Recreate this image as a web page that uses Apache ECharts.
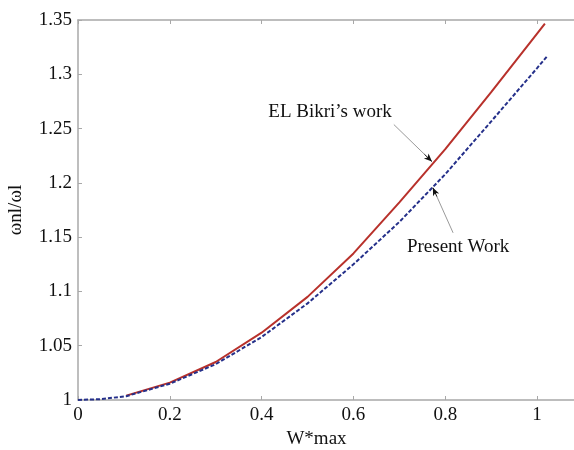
<!DOCTYPE html>
<html>
<head>
<meta charset="utf-8">
<script src="https://cdn.jsdelivr.net/npm/echarts@6/dist/echarts.min.js"></script>
<style>
  html, body { margin: 0; padding: 0; background: #fff; }
  #chart { width: 574px; height: 450px; }
</style>
</head>
<body>
<div id="chart"></div>
<script>
// Data
const presentX = [0, 0.05, 0.105, 0.2, 0.3, 0.4, 0.5, 0.6, 0.7, 0.8, 0.9, 1.0, 1.022]
const presentY = [1.0, 1.0008, 1.0035, 1.015, 1.033, 1.058, 1.089, 1.125, 1.164, 1.208, 1.2566, 1.3057, 1.3167]
const bikriX = [0.105, 0.2, 0.3, 0.4, 0.5, 0.6, 0.7, 0.8, 0.9, 1.0, 1.017]
const bikriY = [1.004, 1.016, 1.035, 1.062, 1.095, 1.135, 1.182, 1.231, 1.2835, 1.3375, 1.3466]

// Annotation texts and arrows (data coordinates)
const bikriLabel = { text: 'EL Bikri\u2019s work', at: [0.549, 1.265] }
const presentLabel = { text: 'Present Work', at: [0.828, 1.141] }
const bikriArrow = [[0.688, 1.2537], [0.771, 1.2196]]
const presentArrow = [[0.817, 1.154], [0.773, 1.1956]]

const font = 'Liberation Serif'
const axisGray = '#a8a8a8'

const zip = (xs, ys) => xs.map((x, i) => [x, ys[i]])

// arrow = grey shaft + short black head
const arrowLines = (arrow) => {
    const [a, b] = arrow
    const head = [a[0] + (b[0] - a[0]) * 0.8, a[1] + (b[1] - a[1]) * 0.8]
    return [
        [{ coord: a, symbol: 'none', lineStyle: { color: '#9a9a9a', width: 1, type: 'solid' } },
         { coord: head, symbol: 'none' }],
        [{ coord: head, symbol: 'none', lineStyle: { color: '#111', width: 1, type: 'solid' } },
         { coord: b, symbol: 'arrow', symbolSize: [5, 8] }]
    ]
}

const textPoint = (lbl) => ({
    coord: lbl.at,
    symbol: 'circle',
    symbolSize: 0,
    label: {
        show: true,
        position: 'inside',
        formatter: lbl.text,
        color: '#111',
        fontFamily: font,
        fontSize: 19
    }
})

const chart = echarts.init(document.getElementById('chart'))

const labelStyle = { color: '#111', fontFamily: font, fontSize: 19 }

chart.setOption({
    animation: false,
    backgroundColor: '#fff',
    grid: { left: 78, top: 20, width: 505, height: 380, outerBoundsMode: 'none', containLabel: false },
    xAxis: [{
        type: 'value',
        min: 0,
        max: 1.1,
        interval: 0.2,
        name: 'W*max',
        nameLocation: 'middle',
        nameGap: 30,
        nameTextStyle: { ...labelStyle, padding: [0, 28, 0, 0] },
        axisLine: { show: true, lineStyle: { color: axisGray, width: 1.5 } },
        axisTick: { show: true, inside: true, length: 4, lineStyle: { color: axisGray } },
        axisLabel: { ...labelStyle, margin: 6, showMaxLabel: false },
        splitLine: { show: false }
    }, {
        type: 'value',
        position: 'top',
        min: 0,
        max: 1.1,
        interval: 0.2,
        axisLine: { show: true, lineStyle: { color: axisGray, width: 1.5 } },
        axisTick: { show: true, inside: true, length: 4, lineStyle: { color: axisGray } },
        axisLabel: { show: false },
        splitLine: { show: false }
    }],
    yAxis: {
        type: 'value',
        min: 1,
        max: 1.35,
        interval: 0.05,
        name: '\u03c9nl/\u03c9l',
        nameLocation: 'middle',
        nameGap: 52,
        nameTextStyle: labelStyle,
        axisLine: { show: true, lineStyle: { color: axisGray, width: 1.5 } },
        axisTick: { show: true, inside: true, length: 4, lineStyle: { color: axisGray } },
        axisLabel: { ...labelStyle, margin: 6 },
        splitLine: { show: false }
    },
    series: [{
        name: 'EL Bikri\u2019s work',
        type: 'line',
        data: zip(bikriX, bikriY),
        showSymbol: false,
        lineStyle: { color: '#b8312b', width: 2 },
        markLine: {
            silent: true,
            label: { show: false },
            data: arrowLines(bikriArrow)
        },
        markPoint: { silent: true, data: [textPoint(bikriLabel)] }
    }, {
        name: 'Present Work',
        type: 'line',
        data: zip(presentX, presentY),
        showSymbol: false,
        lineStyle: { color: '#25308a', width: 2, type: [4, 2] },
        markLine: {
            silent: true,
            label: { show: false },
            data: arrowLines(presentArrow)
        },
        markPoint: { silent: true, data: [textPoint(presentLabel)] }
    }]
})
</script>
</body>
</html>
